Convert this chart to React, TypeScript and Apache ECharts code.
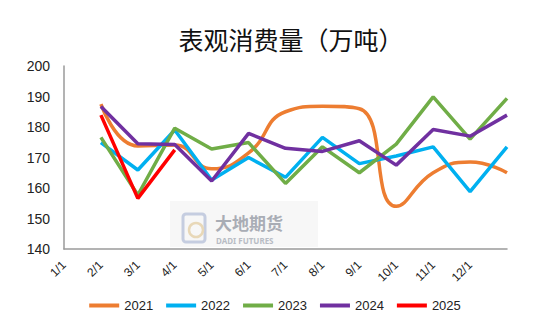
import React, { useEffect, useRef } from "react";
import * as echarts from "echarts";

const categories = ["1/1", "2/1", "3/1", "4/1", "5/1", "6/1", "7/1", "8/1", "9/1", "10/1", "11/1", "12/1", ""];
const s2021 = [null, 187.5, 173.8, 174.1, 166.3, 171.5, 185.0, 186.8, 186.0, 154.0, 165.0, 168.5, 165.0];
const s2022 = [null, 174.9, 165.9, 179.0, 162.6, 170.0, 163.5, 176.6, 168.0, 170.5, 173.5, 158.8, 173.5];
const s2023 = [null, 176.6, 157.7, 179.6, 172.8, 174.9, 161.5, 173.5, 165.0, 174.4, 189.9, 176.0, 189.4];
const s2024 = [null, 186.7, 174.5, 174.3, 162.3, 177.9, 173.0, 172.0, 175.5, 167.5, 179.2, 177.0, 183.9];
const s2025 = [null, 183.9, 156.6, 172.5, null, null, null, null, null, null, null, null, null];
const seriesNames = ["2021", "2022", "2023", "2024", "2025"];
const colors = ["#ED7D31", "#00B0F0", "#70AD47", "#7030A0", "#FF0000"];

export default function App() {
  const ref = useRef<HTMLDivElement>(null);
  useEffect(() => {
    if (!ref.current) return;
    document.body.style.margin = "0";
    const chart = echarts.init(ref.current, null, { renderer: "svg" });
    const data = [s2021, s2022, s2023, s2024, s2025];
    chart.setOption({
      animation: false,
      backgroundColor: "#ffffff",
      title: {
        text: "表观消费量（万吨）",
        left: 286,
        top: 21,
        textAlign: "center",
        textStyle: {
          fontFamily: "Noto Sans CJK SC",
          fontSize: 25,
          fontWeight: "normal",
          color: "#111111",
        },
      },
      graphic: [
        {
          type: "rect",
          shape: { x: 170, y: 201, width: 148, height: 46 },
          style: { fill: "#f7f7f7" },
          z: 0,
        },
        {
          type: "rect",
          shape: { x: 183, y: 214, width: 22, height: 28, r: 3 },
          style: { fill: "none", stroke: "#c5cde0", lineWidth: 3 },
          z: 1,
        },
        {
          type: "circle",
          shape: { cx: 196, cy: 230, r: 7 },
          style: { fill: "none", stroke: "#e8d8b8", lineWidth: 2.5 },
          z: 1,
        },
        {
          type: "text",
          x: 215,
          y: 222,
          style: {
            text: "大地期货",
            fontFamily: "Noto Sans CJK SC",
            fontSize: 17,
            fontWeight: "bold",
            fill: "#a9adb5",
            verticalAlign: "middle",
          },
          z: 1,
        },
        {
          type: "text",
          x: 216,
          y: 240,
          style: {
            text: "DADI FUTURES",
            fontFamily: "Noto Sans",
            fontSize: 8,
            fontWeight: "bold",
            fill: "#b8bcc4",
            verticalAlign: "middle",
          },
          z: 1,
        },
      ],
      legend: {
        bottom: 13,
        left: "center",
        itemWidth: 30,
        itemHeight: 4,
        itemGap: 13,
        icon: "rect",
        textStyle: { fontFamily: "Liberation Sans", fontSize: 13, color: "#222222" },
        data: seriesNames,
      },
      grid: { left: 64, right: 43, top: 66, bottom: 81 },
      xAxis: {
        type: "category",
        data: categories,
        boundaryGap: false,
        axisLine: { show: true, lineStyle: { color: "#9a9a9a", width: 1.5 } },
        axisTick: { show: false },
        axisLabel: {
          rotate: 45,
          interval: 0,
          fontFamily: "Liberation Sans",
          fontSize: 12,
          color: "#222222",
          margin: 14,
        },
      },
      yAxis: {
        type: "value",
        min: 140,
        max: 200,
        interval: 10,
        axisLine: { show: true, lineStyle: { color: "#9a9a9a", width: 1.5 } },
        axisTick: { show: false },
        splitLine: { show: false },
        axisLabel: { fontFamily: "Liberation Sans", fontSize: 14, color: "#222222", margin: 14 },
      },
      series: seriesNames.map((name, i) => ({
        name,
        type: "line",
        data: data[i],
        smooth: i === 0 ? 0.5 : false,
        showSymbol: false,
        symbol: "none",
        lineStyle: { color: colors[i], width: 3.5 },
        itemStyle: { color: colors[i] },
        z: i === 4 ? 10 : 2 + i,
      })),
    });
    return () => chart.dispose();
  }, []);
  return <div ref={ref} style={{ width: 550, height: 330 }} />;
}
